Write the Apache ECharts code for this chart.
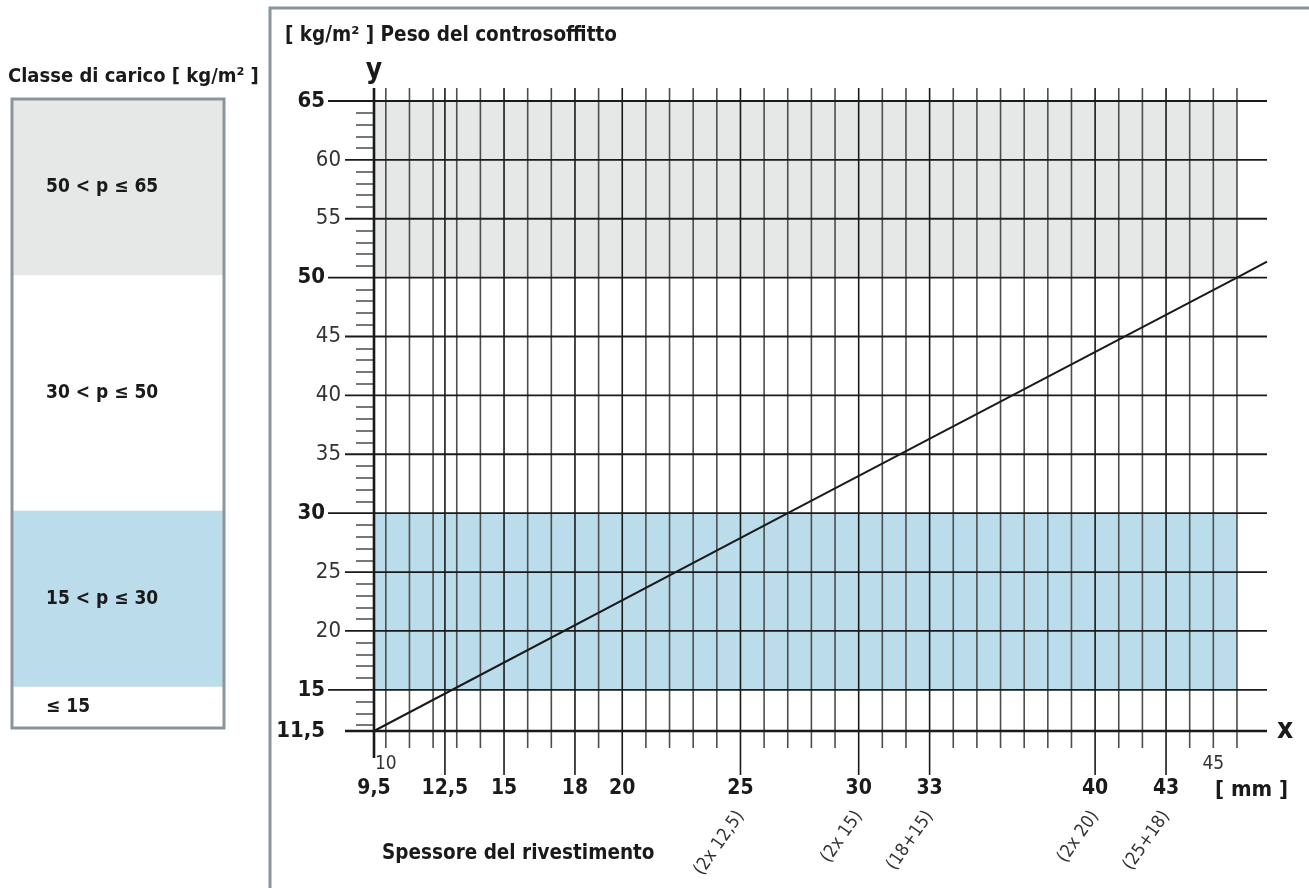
<!DOCTYPE html>
<html>
<head>
<meta charset="utf-8">
<script src="https://cdn.jsdelivr.net/npm/echarts@6/dist/echarts.min.js"></script>
<style>
html, body { margin: 0; padding: 0; background: #fff; }
#chart { width: 1309px; height: 888px; }
</style>
</head>
<body>
<div id="chart"></div>
<script>
// thickness axis [mm]
var xLines = [9.5, 10, 11, 12, 12.5, 13, 14, 15, 16, 17, 18, 19, 20, 21, 22, 23, 24, 25, 26, 27, 28, 29,
    30, 31, 32, 33, 34, 35, 36, 37, 38, 39, 40, 41, 42, 43, 44, 45, 46];
var xBoldLabels = [9.5, 12.5, 15, 18, 20, 25, 30, 33, 40, 43];
var xSmallLabels = [10, 45];
var xLayerValues = [25, 30, 33, 40, 43];
var xLayerLabels = ['(2x 12,5)', '(2x 15)', '(18+15)', '(2x 20)', '(25+18)'];

// weight axis [kg/m2]
var yLines = [11.5, 15, 20, 25, 30, 35, 40, 45, 50, 55, 60, 65];
var yBoldLabels = [11.5, 15, 30, 50, 65];
var yNormalLabels = [20, 25, 35, 40, 45, 55, 60];
var yMinorTicks = [12, 13, 14, 16, 17, 18, 19, 21, 22, 23, 24, 26, 27, 28, 29, 31, 32, 33, 34, 36, 37, 38, 39,
    41, 42, 43, 44, 46, 47, 48, 49, 51, 52, 53, 54, 56, 57, 58, 59, 61, 62, 63, 64];

// load classes (left panel)
var classFrom = [11.5, 15, 30, 50];
var classTo = [15, 30, 50, 65];
var classNames = ['≤ 15', '15 < p ≤ 30', '30 < p ≤ 50', '50 < p ≤ 65'];

// shaded bands in the diagram
var bandFrom = [15, 50];
var bandTo = [30, 65];
var bandEnd = 46;

// weight line
var lineX = [9.5, 27, 46, 47.27];
var lineY = [11.5, 30, 50, 51.35];

var X_MIN = 9.5, X_MAX = 47.27, Y_MIN = 11.5, Y_MAX = 65;
var FONT = '"Liberation Sans Narrow", "DejaVu Sans Condensed", sans-serif';
var INK = '#1a1a1a';

function comma(v) { return String(v).replace('.', ','); }

var classColors = ['#ffffff', '#bbdcea', '#ffffff', '#e6e7e7'];
var bandColors = ['#bbdcea', '#e6e7e7'];

var myChart = echarts.init(document.getElementById('chart'));
var option = {
    animation: false,
    textStyle: { fontFamily: FONT },
    grid: [
        { left: 374, right: 42, top: 101, bottom: 157, outerBoundsMode: 'none' },
        { left: 12, width: 212, top: 99, height: 629, outerBoundsMode: 'none' }
    ],
    xAxis: [
        {
            type: 'value', gridIndex: 0, position: 'bottom', min: X_MIN, max: X_MAX,
            axisLine: { show: false }, axisTick: { show: false }, splitLine: { show: false },
            axisLabel: {
                customValues: xBoldLabels, formatter: comma, margin: 47,
                fontSize: 21, fontWeight: 'bold', color: INK, fontFamily: FONT
            },
            name: 'x', nameLocation: 'end', nameGap: 10,
            nameTextStyle: { fontSize: 28, fontWeight: 'bold', color: INK, fontFamily: FONT, verticalAlign: 'middle' }
        },
        {
            type: 'value', gridIndex: 0, position: 'bottom', offset: 0, min: X_MIN, max: X_MAX,
            axisLine: { show: false }, axisTick: { show: false }, splitLine: { show: false },
            axisLabel: { customValues: xSmallLabels, margin: 24, fontSize: 19, color: '#333', fontFamily: FONT }
        },
        {
            type: 'value', gridIndex: 0, position: 'bottom', offset: 0, min: X_MIN, max: X_MAX,
            axisLine: { show: false }, axisTick: { show: false }, splitLine: { show: false },
            axisLabel: {
                customValues: xLayerValues, rotate: 55, margin: 82, fontSize: 18, color: '#333', fontFamily: FONT,
                formatter: function (v) { return xLayerLabels[xLayerValues.indexOf(v)]; }
            }
        },
        { type: 'value', gridIndex: 1, min: 0, max: 1, show: false }
    ],
    yAxis: [
        {
            type: 'value', gridIndex: 0, position: 'left', min: Y_MIN, max: Y_MAX,
            axisLine: { show: false }, splitLine: { show: false },
            axisTick: { show: true, customValues: yMinorTicks, length: 18, lineStyle: { color: '#555', width: 1.6 } },
            axisLabel: {
                customValues: yBoldLabels, formatter: comma, margin: 49,
                fontSize: 22, fontWeight: 'bold', color: INK, fontFamily: FONT
            },
            name: 'y', nameLocation: 'end', nameGap: 16,
            nameTextStyle: { fontSize: 28, fontWeight: 'bold', color: INK, fontFamily: FONT }
        },
        {
            type: 'value', gridIndex: 0, position: 'left', offset: 0, min: Y_MIN, max: Y_MAX,
            axisLine: { show: false }, splitLine: { show: false }, axisTick: { show: false },
            axisLabel: { customValues: yNormalLabels, margin: 33, fontSize: 22, color: '#333', fontFamily: FONT }
        },
        { type: 'value', gridIndex: 1, min: Y_MIN, max: Y_MAX, show: false }
    ],
    graphic: [
        { type: 'polyline', shape: { points: [[270, 888], [270, 8], [1309, 8]] }, style: { stroke: '#8a949b', lineWidth: 3, fill: null } },
        { type: 'rect', shape: { x: 12, y: 99, width: 212, height: 629 }, style: { stroke: '#8a949b', lineWidth: 3, fill: null }, z: 10 },
        { type: 'text', left: 285, top: 25, style: { text: '[ kg/m² ] Peso del controsoffitto', fontSize: 20.5, fontWeight: 'bold', fill: INK, fontFamily: FONT } },
        { type: 'text', left: 8, top: 67, style: { text: 'Classe di carico [ kg/m² ]', fontSize: 20, fontWeight: 'bold', fill: INK, fontFamily: FONT } },
        { type: 'text', left: 1215, top: 779, style: { text: '[ mm ]', fontSize: 22, fontWeight: 'bold', fill: INK, fontFamily: FONT } },
        { type: 'text', left: 382, top: 843, style: { text: 'Spessore del rivestimento', fontSize: 20.5, fontWeight: 'bold', fill: INK, fontFamily: FONT } }
    ],
    series: [
        {
            // shaded bands
            type: 'line', xAxisIndex: 0, yAxisIndex: 0, data: [], silent: true,
            markArea: {
                silent: true, z: 1,
                data: bandFrom.map(function (f, i) {
                    return [{ xAxis: X_MIN, yAxis: f, itemStyle: { color: bandColors[i] } }, { xAxis: bandEnd, yAxis: bandTo[i] }];
                })
            }
        },
        {
            // vertical grid lines + ticks below x axis
            type: 'custom', xAxisIndex: 0, yAxisIndex: 0, clip: false, silent: true, z: 3,
            data: xLines.map(function (v) { return [v, Y_MIN]; }),
            renderItem: function (params, api) {
                var x = api.value(0);
                var top = api.coord([x, Y_MAX]);
                var bot = api.coord([x, Y_MIN]);
                var isAxis = x === X_MIN;
                var isBold = xBoldLabels.indexOf(x) >= 0;
                var ext = isAxis ? 27 : (isBold ? 44 : 17);
                return {
                    type: 'line',
                    shape: { x1: top[0], y1: top[1] - 13, x2: bot[0], y2: bot[1] + ext },
                    style: { stroke: (isAxis || isBold) ? INK : '#4d4d4d', lineWidth: isAxis ? 2.6 : 1.6 }
                };
            }
        },
        {
            // horizontal grid lines
            type: 'custom', xAxisIndex: 0, yAxisIndex: 0, clip: false, silent: true, z: 3,
            data: yLines.map(function (v) { return [X_MIN, v]; }),
            renderItem: function (params, api) {
                var y = api.value(1);
                var l = api.coord([X_MIN, y]);
                var r = api.coord([X_MAX, y]);
                var isBold = yBoldLabels.indexOf(y) >= 0 && y !== Y_MIN;
                return {
                    type: 'line',
                    shape: { x1: l[0] - (isBold ? 46 : 29), y1: l[1], x2: r[0], y2: r[1] },
                    style: { stroke: INK, lineWidth: y === Y_MIN ? 2.6 : 1.8 }
                };
            }
        },
        {
            name: 'Peso', type: 'line', xAxisIndex: 0, yAxisIndex: 0, z: 4,
            symbol: 'none', silent: true,
            lineStyle: { color: INK, width: 2 },
            data: lineX.map(function (x, i) { return [x, lineY[i]]; })
        },
        {
            // load class panel
            type: 'line', xAxisIndex: 3, yAxisIndex: 2, data: [], silent: true,
            markArea: {
                silent: true,
                label: {
                    show: true, position: 'insideLeft', distance: 34,
                    fontSize: 19, fontWeight: 'bold', color: INK, fontFamily: FONT
                },
                data: classFrom.map(function (f, i) {
                    return [{ yAxis: f, name: classNames[i], itemStyle: { color: classColors[i] } }, { yAxis: classTo[i] }];
                })
            }
        }
    ]
};
myChart.setOption(option);
</script>
</body>
</html>
